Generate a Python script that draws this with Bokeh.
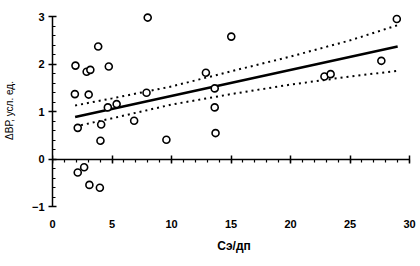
from bokeh.plotting import figure
from bokeh.models import LinearAxis, SingleIntervalTicker, Range1d, CustomJSTickFormatter
from bokeh.embed import file_html
from bokeh.resources import INLINE

# observed points (Сэ/дп, ΔВР)
pt_x = [8.0, 3.84, 1.93, 2.87, 3.18, 4.73, 1.88, 3.04, 7.9, 4.65, 5.39, 6.86, 2.12, 4.09,
        12.89, 15.02, 28.93, 13.63, 27.63, 22.85, 23.37, 13.63, 13.7,
        4.03, 9.57, 2.12, 2.66, 3.1, 3.98]
pt_y = [2.98, 2.37, 1.97, 1.84, 1.88, 1.95, 1.37, 1.36, 1.40, 1.09, 1.16, 0.81, 0.66, 0.73,
        1.82, 2.58, 2.95, 1.49, 2.07, 1.74, 1.79, 1.09, 0.55,
        0.39, 0.41, -0.28, -0.17, -0.54, -0.60]

# regression line
fit_x = [1.9, 29.0]
fit_y = [0.89, 2.37]

# confidence band
band_x = [1.9, 5, 10, 15, 20, 25, 29.0]
band_upper = [1.13, 1.28, 1.53, 1.85, 2.16, 2.50, 2.82]
band_lower = [0.69, 0.86, 1.15, 1.37, 1.57, 1.74, 1.86]

FONT = "Liberation Sans"

p = figure(width=420, height=266, output_backend="svg", toolbar_location=None,
           x_range=Range1d(0, 30.5), y_range=Range1d(-1.1, 3.15),
           min_border_left=51, min_border_right=5, min_border_top=9, min_border_bottom=55)
p.outline_line_color = None
p.grid.visible = False
p.background_fill_color = "white"
p.border_fill_color = "white"

# y axis
ya = p.yaxis[0]
ya.ticker = SingleIntervalTicker(interval=1, num_minor_ticks=5)
ya.bounds = (-1, 3)
ya.axis_line_width = 1.5
ya.axis_line_color = "black"
ya.major_tick_line_color = "black"
ya.minor_tick_line_color = "black"
ya.major_tick_line_width = 1.5
ya.minor_tick_line_width = 1.2
ya.major_tick_in = 4
ya.major_tick_out = 4
ya.minor_tick_in = 3
ya.minor_tick_out = 0
ya.major_label_standoff = 4
ya.major_label_text_font = FONT
ya.major_label_text_font_style = "bold"
ya.major_label_text_font_size = "11px"
ya.major_label_text_color = "black"
ya.axis_label = "ΔВР, усл. ед."
ya.axis_label_text_font = FONT
ya.axis_label_text_font_style = "normal"
ya.axis_label_text_font_size = "10px"
ya.axis_label_text_color = "black"
ya.axis_label_standoff = 14

# x axis: labels only at bottom
xa = p.xaxis[0]
xa.ticker = SingleIntervalTicker(interval=5, num_minor_ticks=5)
xa.axis_line_color = None
xa.major_tick_line_color = None
xa.minor_tick_line_color = None
xa.major_tick_in = 0
xa.major_tick_out = 0
xa.minor_tick_in = 0
xa.minor_tick_out = 0
xa.major_label_standoff = 8
xa.major_label_text_font = FONT
xa.major_label_text_font_style = "bold"
xa.major_label_text_font_size = "11px"
xa.major_label_text_color = "black"
xa.axis_label = "Сэ/дп"
xa.axis_label_text_font = FONT
xa.axis_label_text_font_style = "bold"
xa.axis_label_text_font_size = "12px"
xa.axis_label_text_color = "black"
xa.axis_label_standoff = 8

# x axis line at y = 0 (no labels)
x0 = LinearAxis(fixed_location=0, bounds=(0, 30),
                ticker=SingleIntervalTicker(interval=5, num_minor_ticks=5),
                formatter=CustomJSTickFormatter(code="return ''"))
x0.axis_line_width = 1.5
x0.axis_line_color = "black"
x0.major_tick_line_color = "black"
x0.minor_tick_line_color = "black"
x0.major_tick_line_width = 1.5
x0.minor_tick_line_width = 1.2
x0.major_tick_in = 4
x0.major_tick_out = 4
x0.minor_tick_in = 0
x0.minor_tick_out = 3
x0.major_label_standoff = 0
p.add_layout(x0, "below")

p.line(band_x, band_upper, line_color="black", line_width=2, line_dash="2 4")
p.line(band_x, band_lower, line_color="black", line_width=2, line_dash="2 4")
p.line(fit_x, fit_y, line_color="black", line_width=2.5)
p.scatter(pt_x, pt_y, marker="circle", size=7, fill_color="white",
          line_color="black", line_width=1.6)

open("out.html", "w").write(file_html(p, INLINE))
